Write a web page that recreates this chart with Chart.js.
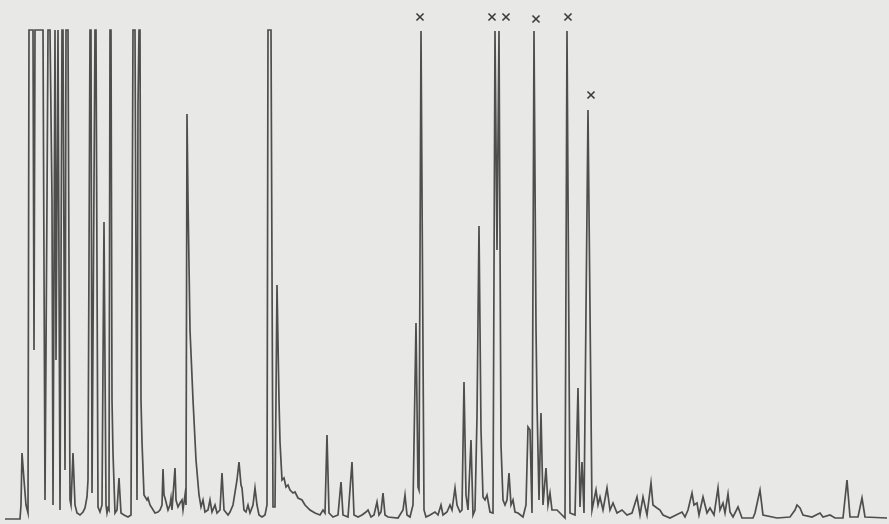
<!DOCTYPE html>
<html>
<head>
<meta charset="utf-8">
<script src="https://cdn.jsdelivr.net/npm/chart.js@4/dist/chart.umd.min.js"></script>
<style>
  html, body { margin: 0; padding: 0; background: #e8e8e6; }
  #trace { display: block; }
</style>
</head>
<body>
<canvas id="trace" width="889" height="524"></canvas>
<script>
// detector trace (time units, signal units)
const traceX = [
  5, 20, 21, 22, 24, 26, 28, 29, 33, 34, 35, 43, 45, 47, 48, 50, 52, 53, 55, 56,
  58, 60, 62, 63, 65, 66, 68, 70, 71, 73, 75, 77, 80, 83, 85, 87, 88, 89, 90, 91,
  92, 95, 96, 98, 100, 102, 104, 106, 107, 108, 109, 110, 111, 112, 113, 115, 117, 119, 121, 124,
  128, 131, 133, 135, 137, 138, 139, 140, 141, 142, 144, 147, 148, 150, 155, 158, 160, 162, 163, 164,
  165, 168, 170, 171, 172, 175, 176, 178, 180, 182, 183, 185, 186, 187, 188, 190, 193, 196, 199, 201,
  203, 205, 208, 210, 212, 215, 217, 220, 222, 224, 228, 230, 233, 237, 239, 241, 242, 244, 246, 248,
  250, 253, 255, 257, 259, 262, 265, 267, 268, 271, 273, 275, 277, 279, 280, 282, 284, 286, 288, 290,
  293, 295, 298, 302, 305, 310, 315, 320, 323, 325, 327, 329, 333, 338, 341, 343, 348, 352, 354, 358,
  362, 366, 368, 371, 374, 377, 379, 381, 383, 385, 388, 398, 403, 405, 407, 410, 413, 416, 418, 419,
  421, 424, 426, 430, 435, 438, 441, 443, 447, 450, 452, 455, 457, 460, 462, 464, 466, 468, 471, 473,
  475, 477, 479, 481, 483, 485, 487, 490, 493, 495, 497, 499, 501, 503, 505, 507, 509, 511, 513, 515,
  518, 523, 526, 528, 530, 532, 534, 536, 537, 539, 541, 543, 546, 548, 550, 552, 557, 562, 565, 567,
  570, 575, 578, 580, 582, 584, 588, 592, 596, 598, 600, 603, 607, 610, 613, 617, 622, 627, 632, 637,
  640, 643, 647, 651, 653, 657, 660, 663, 670, 682, 685, 688, 692, 694, 697, 699, 703, 707, 710, 714,
  718, 720, 723, 725, 728, 730, 733, 738, 742, 753, 755, 760, 763, 777, 790, 795, 797, 800, 803, 812,
  820, 823, 830, 835, 843, 847, 850, 858, 862, 865, 887
];
const traceY = [
  5, 5, 19, 71, 44, 19, 11, 494, 494, 174, 494, 494, 24, 324, 494, 494, 324, 19, 494, 164,
  494, 14, 494, 494, 54, 494, 494, 24, 19, 71, 19, 11, 9, 12, 16, 27, 44, 264, 494, 494,
  31, 494, 494, 17, 12, 19, 302, 19, 11, 16, 14, 494, 494, 124, 71, 11, 14, 46, 11, 9,
  7, 9, 494, 494, 24, 419, 494, 494, 124, 82, 29, 24, 26, 19, 11, 12, 14, 19, 55, 29,
  26, 14, 19, 26, 14, 56, 24, 17, 21, 24, 14, 29, 19, 410, 324, 194, 124, 64, 29, 17,
  24, 12, 14, 24, 12, 19, 11, 14, 51, 14, 9, 12, 19, 44, 62, 39, 36, 14, 12, 19,
  11, 19, 36, 19, 9, 7, 9, 19, 494, 494, 17, 17, 239, 124, 82, 44, 46, 37, 39, 34,
  31, 32, 26, 24, 19, 14, 11, 9, 14, 11, 89, 11, 7, 9, 42, 9, 7, 62, 9, 7,
  9, 12, 14, 7, 9, 22, 9, 12, 31, 9, 7, 6, 14, 29, 9, 7, 19, 201, 37, 34,
  493, 14, 7, 9, 12, 9, 19, 9, 12, 19, 14, 36, 19, 12, 14, 142, 29, 14, 84, 9,
  14, 107, 298, 94, 27, 24, 29, 12, 11, 493, 274, 493, 79, 24, 19, 24, 51, 19, 24, 12,
  11, 7, 19, 97, 94, 11, 493, 196, 121, 24, 111, 19, 56, 19, 31, 14, 14, 9, 6, 493,
  11, 9, 136, 17, 62, 11, 414, 14, 34, 19, 27, 14, 36, 14, 21, 11, 14, 9, 11, 27,
  9, 27, 9, 41, 19, 16, 14, 9, 6, 12, 7, 14, 31, 19, 21, 9, 27, 11, 16, 9,
  36, 14, 21, 11, 30, 12, 7, 17, 6, 6, 11, 34, 9, 6, 7, 14, 19, 16, 9, 7,
  11, 7, 9, 6, 6, 44, 7, 7, 26, 7, 6
];

// hand-drawn crosses over the marked peaks
const markX = [420, 492, 506, 536, 568, 591];
const markY = [507, 507, 507, 505, 507, 429];

const ctx = document.getElementById("trace").getContext("2d");

const traceData = traceX.map((x, i) => ({ x, y: traceY[i] }));
const markData = markX.map((x, i) => ({ x, y: markY[i] }));

new Chart(ctx, {
  type: "line",
  data: {
    datasets: [
      {
        data: traceData,
        borderColor: "#4e4e4e",
        borderWidth: 1.7,
        pointRadius: 0,
        tension: 0,
        fill: false,
        clip: false
      },
      {
        type: "scatter",
        data: markData,
        pointStyle: "crossRot",
        pointRadius: 5,
        borderColor: "#3a3a3a",
        borderWidth: 1.6,
        showLine: false,
        clip: false
      }
    ]
  },
  options: {
    responsive: false,
    animation: false,
    layout: { padding: 0, autoPadding: false },
    scales: {
      x: { type: "linear", min: 0, max: 889, display: false },
      y: { min: 0, max: 524, display: false }
    },
    plugins: { legend: { display: false }, tooltip: { enabled: false } }
  }
});
</script>
</body>
</html>
